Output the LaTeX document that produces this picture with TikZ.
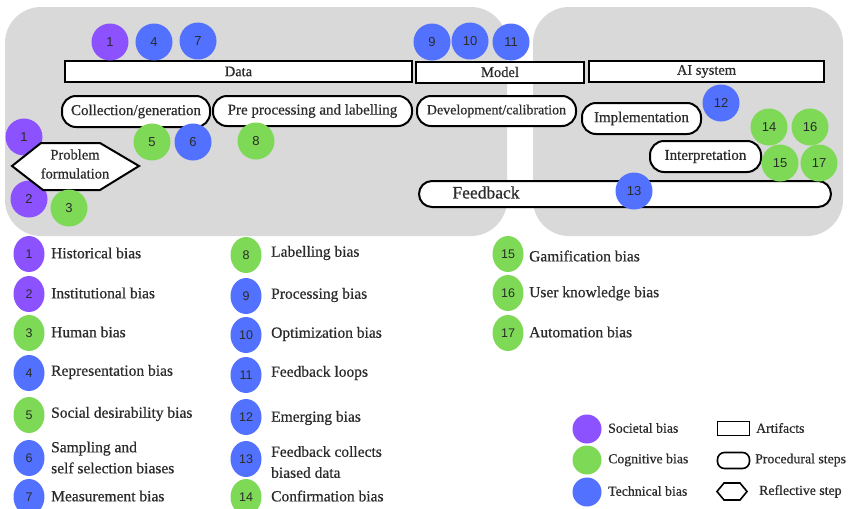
\documentclass[tikz,border=0pt]{standalone}
\usepackage{fontspec}
\setmainfont{Liberation Serif}
\newfontfamily\labelfont{Liberation Serif}[FakeBold=0.6]
\newfontfamily\numfont{Liberation Sans}
\usetikzlibrary{shapes.geometric}
\definecolor{panelgray}{HTML}{D9D9D9}
\definecolor{societal}{HTML}{8C52FF}
\definecolor{cognitive}{HTML}{7ED957}
\definecolor{technical}{HTML}{5271FF}
\definecolor{ink}{HTML}{2B2B2B}
\tikzset{
  panel/.style={fill=panelgray, rounded corners=36pt},
  artifact/.style={draw=black, line width=2pt, fill=white, inner sep=0pt,
    font=\labelfont\fontsize{14.5}{16}\selectfont, text=ink},
  proc/.style={draw=black, line width=2pt, fill=white, rounded corners=14pt,
    inner sep=0pt, font=\labelfont\fontsize{15}{16}\selectfont, text=ink},
  bubble/.style={circle, minimum size=37pt, inner sep=0pt,
    font=\numfont\fontsize{13}{14}\selectfont, text=ink},
  soc/.style={bubble, fill=societal},
  cog/.style={bubble, fill=cognitive},
  tec/.style={bubble, fill=technical},
  key/.style={ellipse, minimum width=31pt, minimum height=36pt, inner sep=0pt,
    font=\numfont\fontsize{12.5}{14}\selectfont, text=ink},
  keytext/.style={anchor=west, inner sep=0pt, align=left,
    font=\labelfont\fontsize{15.5}{21}\selectfont, text=ink},
  swatch/.style={circle, minimum size=29pt, inner sep=0pt},
  swatchtext/.style={anchor=west, inner sep=0pt, font=\labelfont\fontsize{13.8}{15}\selectfont, text=ink},
  hexline/.style={draw=black, line width=2pt, fill=white, line join=miter},
}
\begin{document}
\begin{tikzpicture}[x=1pt,y=-1pt]
\useasboundingbox (0,0) rectangle (852,509);
\clip (0,0) rectangle (852,509);

% grey stage panels
\fill[panel] (5,7) rectangle (507,236);
\fill[panel] (533,7) rectangle (843,236);

% artifacts
\node[artifact, minimum width=347pt, minimum height=21pt] (data) at (238.5,71.5) {Data};
\node[artifact, minimum width=168pt, minimum height=21pt] (model) at (500,72) {Model};
\node[artifact, minimum width=235pt, minimum height=21pt] (aisys) at (706.5,71.5) {AI system};

% procedural steps
\node[proc, minimum width=148pt, minimum height=31pt] (collect) at (136,111.5) {Collection/generation};
\node[proc, minimum width=199pt, minimum height=30pt] (prep) at (312.5,111) {Pre processing and labelling};
\node[proc, font=\labelfont\fontsize{14}{16}\selectfont, minimum width=159pt, minimum height=30pt] (devel) at (496.5,111) {Development/calibration};
\node[proc, minimum width=119pt, minimum height=31pt] (impl) at (641.5,118.5) {Implementation};
\node[proc, minimum width=111pt, minimum height=31pt] (interp) at (705.5,156.5) {Interpretation};
\node[proc, rounded corners=13pt, minimum width=412pt, minimum height=26pt] (feedback) at (625,194) {};
\node[inner sep=0pt, font=\labelfont\fontsize{17.5}{19}\selectfont, text=ink] (fbtext) at (486,192.5) {Feedback};

% bias markers on the stages
\node[soc] (b1a) at (110,42) {1};
\node[tec] (b4) at (154,42) {4};
\node[tec] (b7) at (198,41) {7};
\node[soc] (b1b) at (24,137) {1};
\node[soc] (b2) at (29,199) {2};

% reflective step
\path[hexline] (12,166) -- (41,143) -- (100,143) -- (139,166) -- (100,190) -- (43,190) -- cycle;
\node[align=center, inner sep=0pt, font=\labelfont\fontsize{14.5}{19}\selectfont, text=ink] (problem) at (75,164) {Problem\\formulation};

\node[cog] (b3) at (69,208) {3};
\node[cog] (b5) at (152,142) {5};
\node[tec] (b6) at (193,142) {6};
\node[cog] (b8) at (256,141) {8};
\node[tec] (b9) at (432,42) {9};
\node[tec] (b10) at (470,41) {10};
\node[tec] (b11) at (511,42) {11};
\node[tec] (b12) at (721,103) {12};
\node[cog] (b14) at (769,127) {14};
\node[cog] (b16) at (810,127) {16};
\node[cog] (b15) at (780,163) {15};
\node[cog] (b17) at (819,163) {17};
\node[tec] (b13) at (634,191) {13};

% numbered list, first column
\node[key, fill=societal] (k1) at (29,254) {1};
\node[keytext] (t1) at (51,253) {Historical bias};
\node[key, fill=societal] (k2) at (29,294) {2};
\node[keytext] (t2) at (51,293) {Institutional bias};
\node[key, fill=cognitive] (k3) at (29,333) {3};
\node[keytext] (t3) at (51,332) {Human bias};
\node[key, fill=technical] (k4) at (29,373) {4};
\node[keytext] (t4) at (51,372) {Representation bias};
\node[key, fill=cognitive] (k5) at (29,415) {5};
\node[keytext] (t5) at (51,414) {Social desirability bias};
\node[key, fill=technical] (k6) at (29,458) {6};
\node[keytext] (t6) at (51,457.5) {Sampling and\\self selection biases};
\node[key, fill=technical] (k7) at (29,497) {7};
\node[keytext] (t7) at (51,496) {Measurement bias};

% second column
\node[key, fill=cognitive] (k8) at (246,255) {8};
\node[keytext] (t8) at (271,253) {Labelling bias};
\node[key, fill=technical] (k9) at (246,296) {9};
\node[keytext] (t9) at (271,295) {Processing bias};
\node[key, fill=technical] (k10) at (246,335) {10};
\node[keytext] (t10) at (271,334) {Optimization bias};
\node[key, fill=technical] (k11) at (246,375) {11};
\node[keytext] (t11) at (271,373) {Feedback loops};
\node[key, fill=technical] (k12) at (246,417) {12};
\node[keytext] (t12) at (271,418) {Emerging bias};
\node[key, fill=technical] (k13) at (246,459) {13};
\node[keytext] (t13) at (271,462) {Feedback collects\\biased data};
\node[key, fill=cognitive] (k14) at (246,497) {14};
\node[keytext] (t14) at (271,496) {Confirmation bias};

% third column
\node[key, fill=cognitive] (k15) at (508,254) {15};
\node[keytext] (t15) at (529,256) {Gamification bias};
\node[key, fill=cognitive] (k16) at (508,293) {16};
\node[keytext] (t16) at (529,293.5) {User knowledge bias};
\node[key, fill=cognitive] (k17) at (508,333) {17};
\node[keytext] (t17) at (529,332) {Automation bias};

% category and shape key
\node[swatch, fill=societal] (ssoc) at (587,429) {};
\node[swatchtext] (lsoc) at (608,428) {Societal bias};
\node[swatch, fill=cognitive] (scog) at (587,460) {};
\node[swatchtext] (lcog) at (608,460) {Cognitive bias};
\node[swatch, fill=technical] (stec) at (587,492) {};
\node[swatchtext] (ltec) at (608,491) {Technical bias};

\node[draw=black, line width=1.6pt, minimum width=32pt, minimum height=14pt, inner sep=0pt] (sart) at (733.5,428.5) {};
\node[swatchtext] (lart) at (756,428) {Artifacts};
\node[draw=black, line width=1.6pt, rounded corners=7pt, minimum width=32pt, minimum height=16pt, inner sep=0pt] (sproc) at (733.5,460.5) {};
\node[swatchtext] (lproc) at (755,460) {Procedural steps};
\path[draw=black, line width=1.6pt, line join=miter] (717,491.5) -- (724,483) -- (740,483) -- (747,491.5) -- (740,500) -- (724,500) -- cycle;
\coordinate (shex) at (732,491.5);
\node[swatchtext] (lhex) at (759,491.5) {Reflective step};
\end{tikzpicture}
\end{document}
